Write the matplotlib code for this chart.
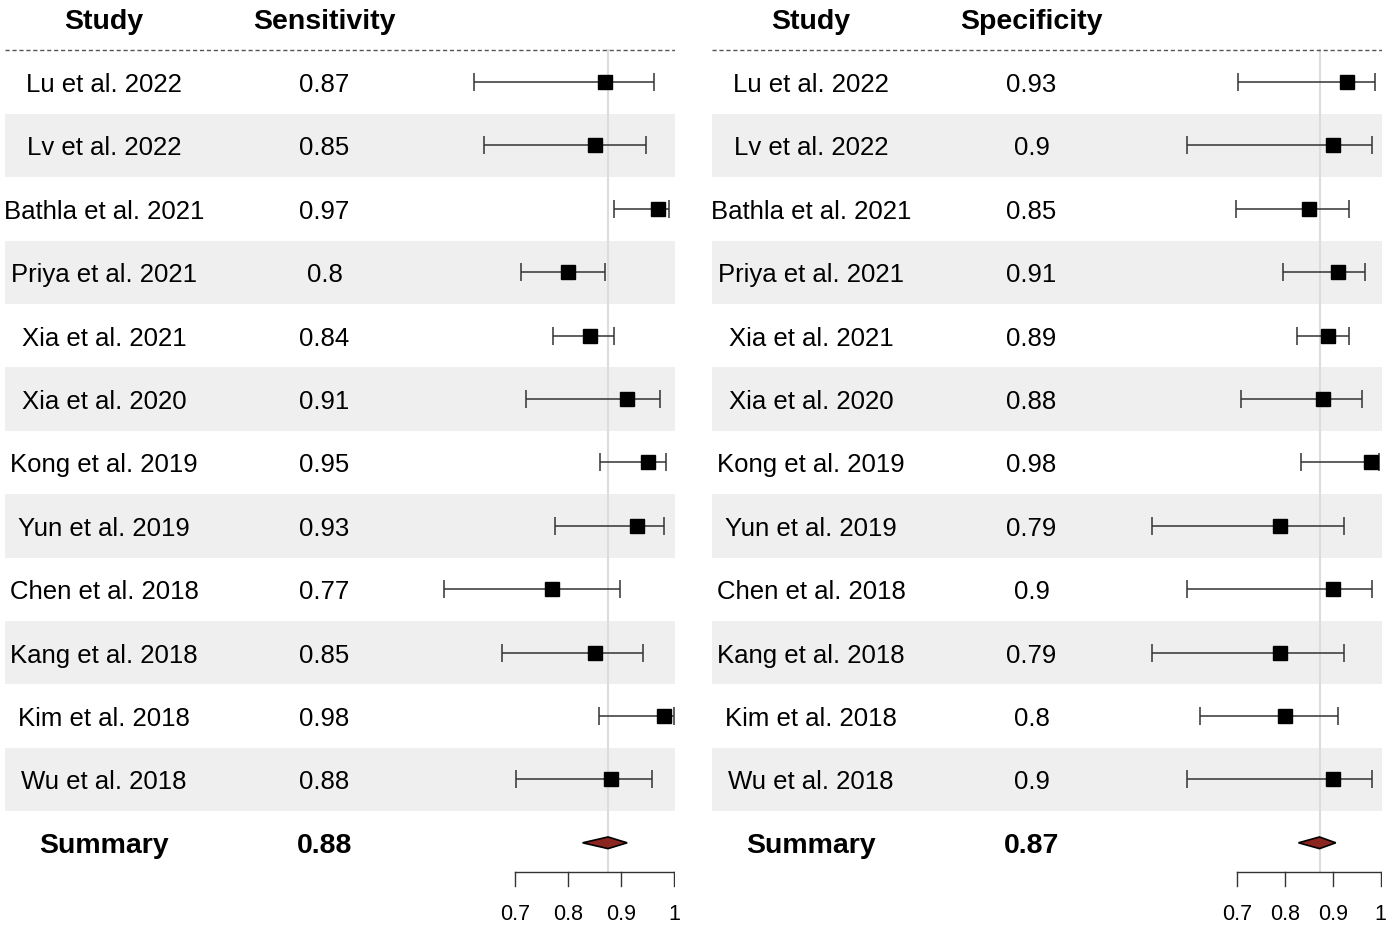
import matplotlib
matplotlib.use("Agg")
import matplotlib.pyplot as plt
from matplotlib.patches import Polygon

plt.rcParams['font.family'] = ['Liberation Sans', 'DejaVu Sans']

# data
studies = ["Lu et al. 2022", "Lv et al. 2022", "Bathla et al. 2021", "Priya et al. 2021",
           "Xia et al. 2021", "Xia et al. 2020", "Kong et al. 2019", "Yun et al. 2019",
           "Chen et al. 2018", "Kang et al. 2018", "Kim et al. 2018", "Wu et al. 2018"]

sens = [0.87, 0.85, 0.97, 0.80, 0.84, 0.91, 0.95, 0.93, 0.77, 0.85, 0.98, 0.88]
sens_lo = [0.622, 0.640, 0.887, 0.711, 0.771, 0.721, 0.860, 0.774, 0.566, 0.675, 0.858, 0.701]
sens_hi = [0.962, 0.947, 0.990, 0.870, 0.886, 0.973, 0.984, 0.980, 0.898, 0.940, 0.999, 0.957]
sens_labels = ["0.87", "0.85", "0.97", "0.8", "0.84", "0.91", "0.95", "0.93", "0.77", "0.85", "0.98", "0.88"]
sens_summary = 0.875
sens_summary_ci = (0.827, 0.911)
sens_summary_label = "0.88"

spec = [0.93, 0.90, 0.85, 0.91, 0.89, 0.88, 0.98, 0.79, 0.90, 0.79, 0.80, 0.90]
spec_lo = [0.701, 0.595, 0.698, 0.796, 0.824, 0.708, 0.834, 0.522, 0.595, 0.522, 0.623, 0.595]
spec_hi = [0.989, 0.982, 0.934, 0.967, 0.933, 0.961, 0.997, 0.924, 0.982, 0.924, 0.911, 0.982]
spec_labels = ["0.93", "0.9", "0.85", "0.91", "0.89", "0.88", "0.98", "0.79", "0.9", "0.79", "0.8", "0.9"]
spec_summary = 0.872
spec_summary_ci = (0.828, 0.906)
spec_summary_label = "0.87"

ticks = [0.7, 0.8, 0.9, 1.0]
tick_labels = ["0.7", "0.8", "0.9", "1"]

W, H = 1392, 928
fig = plt.figure(figsize=(W / 100, H / 100), dpi=100)

# row layout (pixels): row 0 at y=83, step 63.4
ROW0, STEP = 83.0, 63.4
TXT = 0.03  # small downward nudge for text


def row_of(py):
    return (py - ROW0) / STEP


def draw_panel(px0, px1, zero_px, scale_px, header, est, lo, hi, labels,
               summ, summ_ci, summ_label):
    ax = fig.add_axes([px0 / W, 0, (px1 - px0) / W, 1])
    ax.set_xlim(0.7 - (zero_px - px0) / scale_px, 0.7 + (px1 - zero_px) / scale_px)
    ax.set_ylim(row_of(H), row_of(0))
    ax.axis("off")
    n = len(est)

    # zebra bands
    for i in range(n):
        if i % 2 == 1:
            ax.axhspan(i - 0.5, i + 0.5, color="#efefef", lw=0, zorder=0)

    # headers and dashed line
    tr = ax.get_yaxis_transform()
    ax.text(0.148, -1 + TXT, "Study", transform=tr, ha="center", va="center",
            fontsize=20.5, fontweight="bold")
    ax.text(0.477, -1 + TXT, header, transform=tr, ha="center", va="center",
            fontsize=20.5, fontweight="bold")
    ax.axhline(-0.5, color="#555555", lw=1, ls=(0, (3, 2)))

    # reference line at summary
    ax.plot([summ, summ], [-0.5, row_of(873)], color="#dcdcdc", lw=1.5, zorder=1)

    for i in range(n):
        ax.text(0.148, i + TXT, studies[i], transform=tr, ha="center", va="center", fontsize=18.5)
        ax.text(0.477, i + TXT, labels[i], transform=tr, ha="center", va="center", fontsize=18.5)

    rows = list(range(n))
    ax.errorbar(est, rows, xerr=[[e - l for e, l in zip(est, lo)], [h - e for e, h in zip(est, hi)]],
                fmt="s", color="black", ecolor="#333333", elinewidth=1.1, capsize=6.5,
                capthick=1.1, markersize=10, zorder=3)

    # summary
    ax.text(0.148, n + TXT, "Summary", transform=tr, ha="center", va="center",
            fontsize=20.5, fontweight="bold")
    ax.text(0.477, n + TXT, summ_label, transform=tr, ha="center", va="center",
            fontsize=20.5, fontweight="bold")
    hh = 0.092
    diamond = Polygon([(summ_ci[0], n), (summ, n - hh), (summ_ci[1], n), (summ, n + hh)],
                      closed=True, facecolor="#8b2520", edgecolor="black", lw=1.2, zorder=4)
    ax.add_patch(diamond)

    # x axis
    ya = row_of(873)
    yt = row_of(887)
    ax.plot([ticks[0], ticks[-1]], [ya, ya], color="#333333", lw=1)
    for t, tl in zip(ticks, tick_labels):
        ax.plot([t, t], [ya, yt], color="#333333", lw=1)
        ax.text(t, row_of(915), tl, ha="center", va="center", fontsize=15.5)


draw_panel(5, 675, 515.3, 530.0, "Sensitivity", sens, sens_lo, sens_hi, sens_labels,
           sens_summary, sens_summary_ci, sens_summary_label)
draw_panel(712, 1382, 1237.3, 478.0, "Specificity", spec, spec_lo, spec_hi, spec_labels,
           spec_summary, spec_summary_ci, spec_summary_label)

fig.savefig("out.png", dpi=100, facecolor="white")
